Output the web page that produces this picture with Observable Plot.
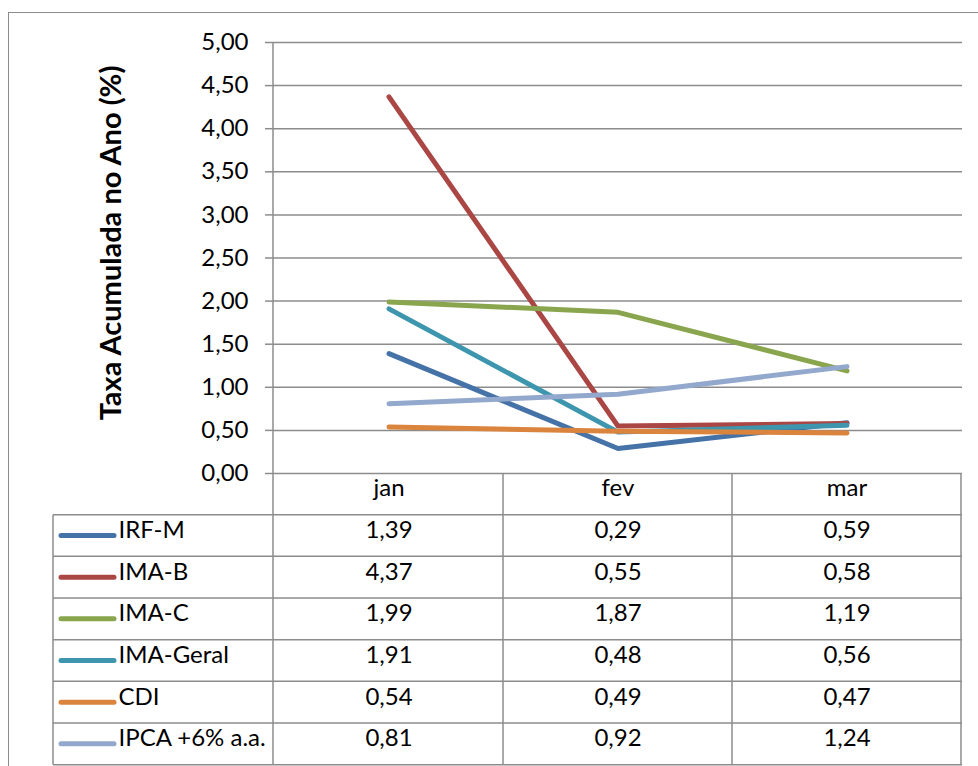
<!DOCTYPE html>
<html><head><meta charset="utf-8">
<script src="https://cdn.jsdelivr.net/npm/d3@7"></script>
<script src="https://cdn.jsdelivr.net/npm/@observablehq/plot@0.6"></script>
<style>
body{margin:0;background:#fff;}
#wrap{position:relative;width:978px;height:766px;overflow:hidden;background:#fff;}
#chart{position:absolute;left:0;top:0;}
#border{position:absolute;left:8px;top:12px;width:1000px;height:800px;border:1.5px solid #8c8c8c;pointer-events:none;box-sizing:border-box;}
</style></head><body>
<div id="wrap"><div id="chart"></div><div id="border"></div></div>
<script>
// ---- data ----
const months = ["jan", "fev", "mar"];
const seriesNames = ["IRF-M", "IMA-B", "IMA-C", "IMA-Geral", "CDI", "IPCA +6% a.a."];
const irfM     = [1.39, 0.29, 0.59];
const imaB     = [4.37, 0.55, 0.58];
const imaC     = [1.99, 1.87, 1.19];
const imaGeral = [1.91, 0.48, 0.56];
const cdi      = [0.54, 0.49, 0.47];
const ipca     = [0.81, 0.92, 1.24];
const yTicks = [0, 0.5, 1, 1.5, 2, 2.5, 3, 3.5, 4, 4.5, 5];
const yTitle = "Taxa Acumulada no Ano (%)";
const colors = ["#4572A7", "#AA4643", "#89A54E", "#3D96AE", "#DB843D", "#92A8CD"];

const seriesValues = [irfM, imaB, imaC, imaGeral, cdi, ipca];
const data = seriesNames.flatMap((s, i) => months.map((m, j) => ({series: s, month: m, value: seriesValues[i][j]})));

// ---- layout ----
const W = 978, H = 766, mL = 273, mR = 16, mT = 42, mB = 293;
const rowH = 41.67;
const legendW = 220;
const gridC = "#8c8c8c";
const FONT = "Lato, 'Open Sans', sans-serif";
const FS = 24;
const fmt = v => v.toFixed(2).replace(".", ",");

const tableMark = (index, scales, values, dims) => {
  const {marginLeft: L, marginTop: T, marginRight: R, marginBottom: B, width, height} = dims;
  const g = d3.create("svg:g").attr("fill", "none");
  const xR = width - R, yb = height - B;
  const tLeft = L - legendW;
  const bw = scales.x.bandwidth ? scales.x.bandwidth() : (xR - L) / months.length;
  const n = seriesNames.length;
  const line = (x1, y1, x2, y2, c = gridC, w = 1.5) =>
    g.append("line").attr("x1", x1).attr("y1", y1).attr("x2", x2).attr("y2", y2)
      .attr("stroke", c).attr("stroke-width", w);
  for (let k = 1; k <= n + 1; k++) line(tLeft, yb + rowH * k, xR, yb + rowH * k);
  line(tLeft, yb + rowH, tLeft, yb + rowH * (n + 1));
  line(L, T, L, yb + rowH * (n + 1));
  months.forEach(m => {
    const xe = scales.x(m) + bw;
    line(xe, yb, xe, yb + rowH * (n + 1));
  });
  seriesNames.forEach((s, k) => {
    const y = yb + rowH * (k + 1.5);
    g.append("line").attr("x1", tLeft + 8).attr("x2", tLeft + 61).attr("y1", y).attr("y2", y)
      .attr("stroke", colors[k]).attr("stroke-width", 5).attr("stroke-linecap", "round");
  });
  return g.node();
};

const marks = [
  Plot.gridY(yTicks, {stroke: gridC, strokeOpacity: 1, strokeWidth: 1.5}),
  Plot.axisY(yTicks, {tickSize: 8, tickPadding: 17, tickFormat: fmt, fontSize: FS, stroke: gridC, strokeWidth: 1.5, label: null}),
  Plot.text([yTitle], {frameAnchor: "left", textAnchor: "middle", rotate: -90, dx: -162, dy: -15, fontSize: 29, fontWeight: "bold", fill: "#000", text: d => d}),
  Plot.line(data, {x: "month", y: "value", z: "series", stroke: "series", strokeWidth: 5, strokeLinecap: "round", strokeLinejoin: "round"}),
  tableMark,
  Plot.text(months, {x: d => d, text: d => d, frameAnchor: "bottom", dy: rowH * 0.5 + 2, fontSize: FS, fill: "#000"})
];
seriesNames.forEach((s, k) => {
  marks.push(Plot.text(months, {x: d => d, text: (d, j) => fmt(seriesValues[k][j]), frameAnchor: "bottom", dy: rowH * (k + 1.5) + 2, fontSize: FS, fill: "#000"}));
  marks.push(Plot.text([s], {frameAnchor: "bottom-left", dx: -(legendW - 65), dy: rowH * (k + 1.5) + 2, textAnchor: "start", text: d => d, fontSize: FS, fill: "#000"}));
});

const chart = Plot.plot({
  width: W, height: H,
  marginLeft: mL, marginRight: mR, marginTop: mT, marginBottom: mB,
  style: {fontFamily: FONT, color: "#000", background: "transparent", overflow: "visible"},
  x: {type: "band", domain: months, padding: 0, axis: null},
  y: {domain: [0, 5], axis: null},
  color: {domain: seriesNames, range: colors},
  marks
});
document.getElementById("chart").appendChild(chart);
</script>
</body></html>
